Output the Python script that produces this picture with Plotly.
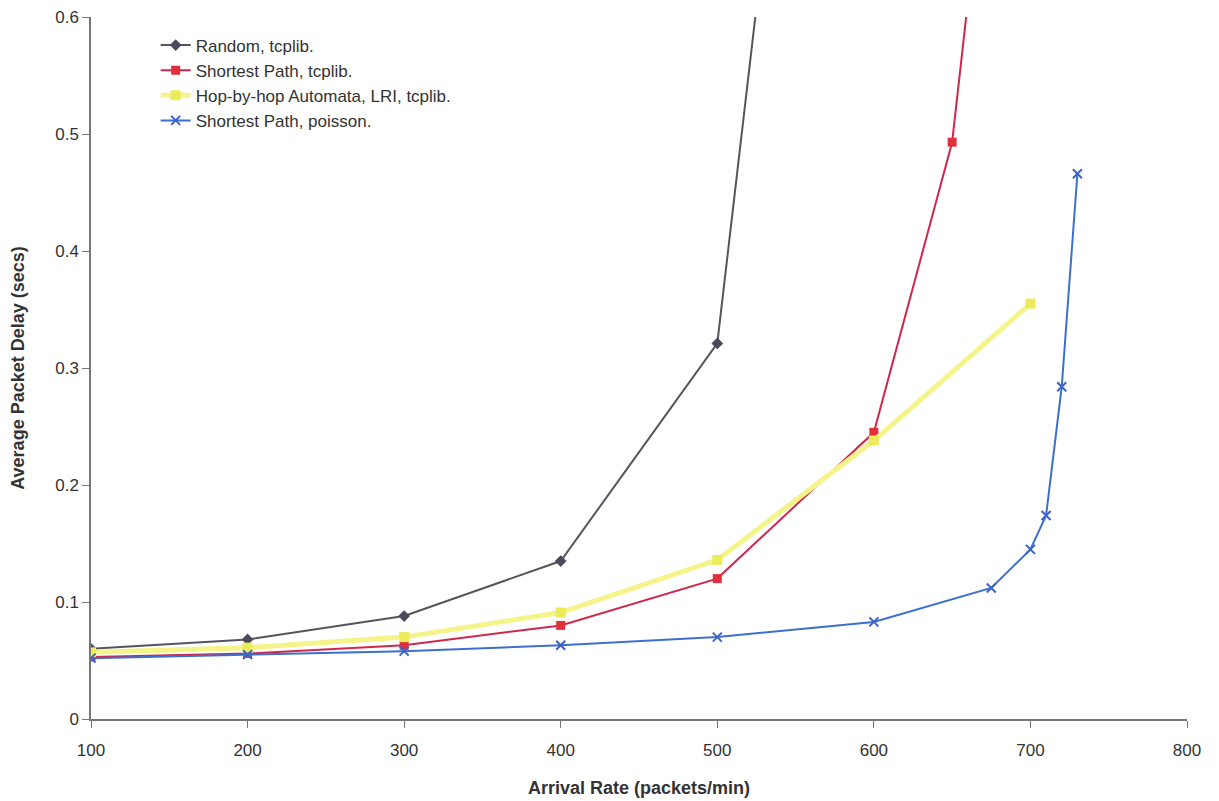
import plotly.graph_objects as go

# Data
x_random = [100, 200, 300, 400, 500, 600]
y_random = [0.060, 0.068, 0.088, 0.135, 0.321, 1.47]

x_sp_tcp = [100, 200, 300, 400, 500, 600, 650, 700]
y_sp_tcp = [0.053, 0.056, 0.063, 0.080, 0.120, 0.245, 0.493, 1.09]

x_hop = [100, 200, 300, 400, 500, 600, 700]
y_hop = [0.057, 0.061, 0.070, 0.091, 0.136, 0.238, 0.355]

x_sp_poi = [100, 200, 300, 400, 500, 600, 675, 700, 710, 720, 730]
y_sp_poi = [0.052, 0.055, 0.058, 0.063, 0.070, 0.083, 0.112, 0.145, 0.174, 0.284, 0.466]

x_ticks = [100, 200, 300, 400, 500, 600, 700, 800]
y_ticks = [0, 0.1, 0.2, 0.3, 0.4, 0.5, 0.6]
y_tick_text = ["0", "0.1", "0.2", "0.3", "0.4", "0.5", "0.6"]

fig = go.Figure()
fig.add_trace(go.Scatter(
    x=x_random, y=y_random, name="Random, tcplib.", mode="lines+markers",
    line=dict(color="#555560", width=2),
    marker=dict(symbol="diamond", size=9, color="#4a4a5c")))
fig.add_trace(go.Scatter(
    x=x_sp_tcp, y=y_sp_tcp, name="Shortest Path, tcplib.", mode="lines+markers",
    line=dict(color="#d0284c", width=2),
    marker=dict(symbol="square", size=9, color="#e0303e")))
fig.add_trace(go.Scatter(
    x=x_hop, y=y_hop, name="Hop-by-hop Automata, LRI, tcplib.", mode="lines+markers",
    line=dict(color="#f4f48a", width=5),
    marker=dict(symbol="square", size=10, color="#ecec5a")))
fig.add_trace(go.Scatter(
    x=x_sp_poi, y=y_sp_poi, name="Shortest Path, poisson.", mode="lines+markers",
    line=dict(color="#3c70cc", width=2),
    marker=dict(symbol="x-thin", size=9, color="#3c62c8", line=dict(width=2, color="#3c62c8"))))

fig.update_layout(
    width=1211, height=793,
    margin=dict(l=83, r=32, t=9, b=82, autoexpand=False),
    paper_bgcolor="white", plot_bgcolor="white",
    font=dict(family="Liberation Sans, Arial, sans-serif", size=17, color="#333333"),
    showlegend=True,
    legend=dict(x=0.059, y=0.985, xanchor="left", yanchor="top",
                bgcolor="rgba(0,0,0,0)", font=dict(size=17, color="#333333"),
                tracegroupgap=0, itemwidth=30),
)
fig.update_xaxes(
    range=[100, 800], tickvals=x_ticks, ticktext=[str(v) for v in x_ticks],
    showgrid=False, zeroline=False, showline=True, linecolor="#777777", linewidth=1.5,
    ticks="outside", ticklen=7, tickcolor="#777777", automargin=False,
    ticklabeloverflow="allow", ticklabelstandoff=8,
    title=dict(text="<b>Arrival Rate (packets/min)</b>",
               font=dict(family="Liberation Sans Narrow, Arial Narrow, Liberation Sans, sans-serif", size=18, color="#333333"),
               standoff=22),
    tickfont=dict(size=17, color="#333333"),
)
fig.update_yaxes(
    range=[0, 0.6], tickvals=y_ticks, ticktext=y_tick_text,
    showgrid=False, zeroline=False, showline=True, linecolor="#777777", linewidth=1.5,
    ticks="outside", ticklen=7, tickcolor="#777777", automargin=False,
    ticklabeloverflow="allow",
    title=dict(text="<b>Average Packet Delay (secs)</b>",
               font=dict(family="Liberation Sans Narrow, Arial Narrow, Liberation Sans, sans-serif", size=18, color="#333333"),
               standoff=26),
    tickfont=dict(size=17, color="#333333"),
)

fig.write_html("out.html")
